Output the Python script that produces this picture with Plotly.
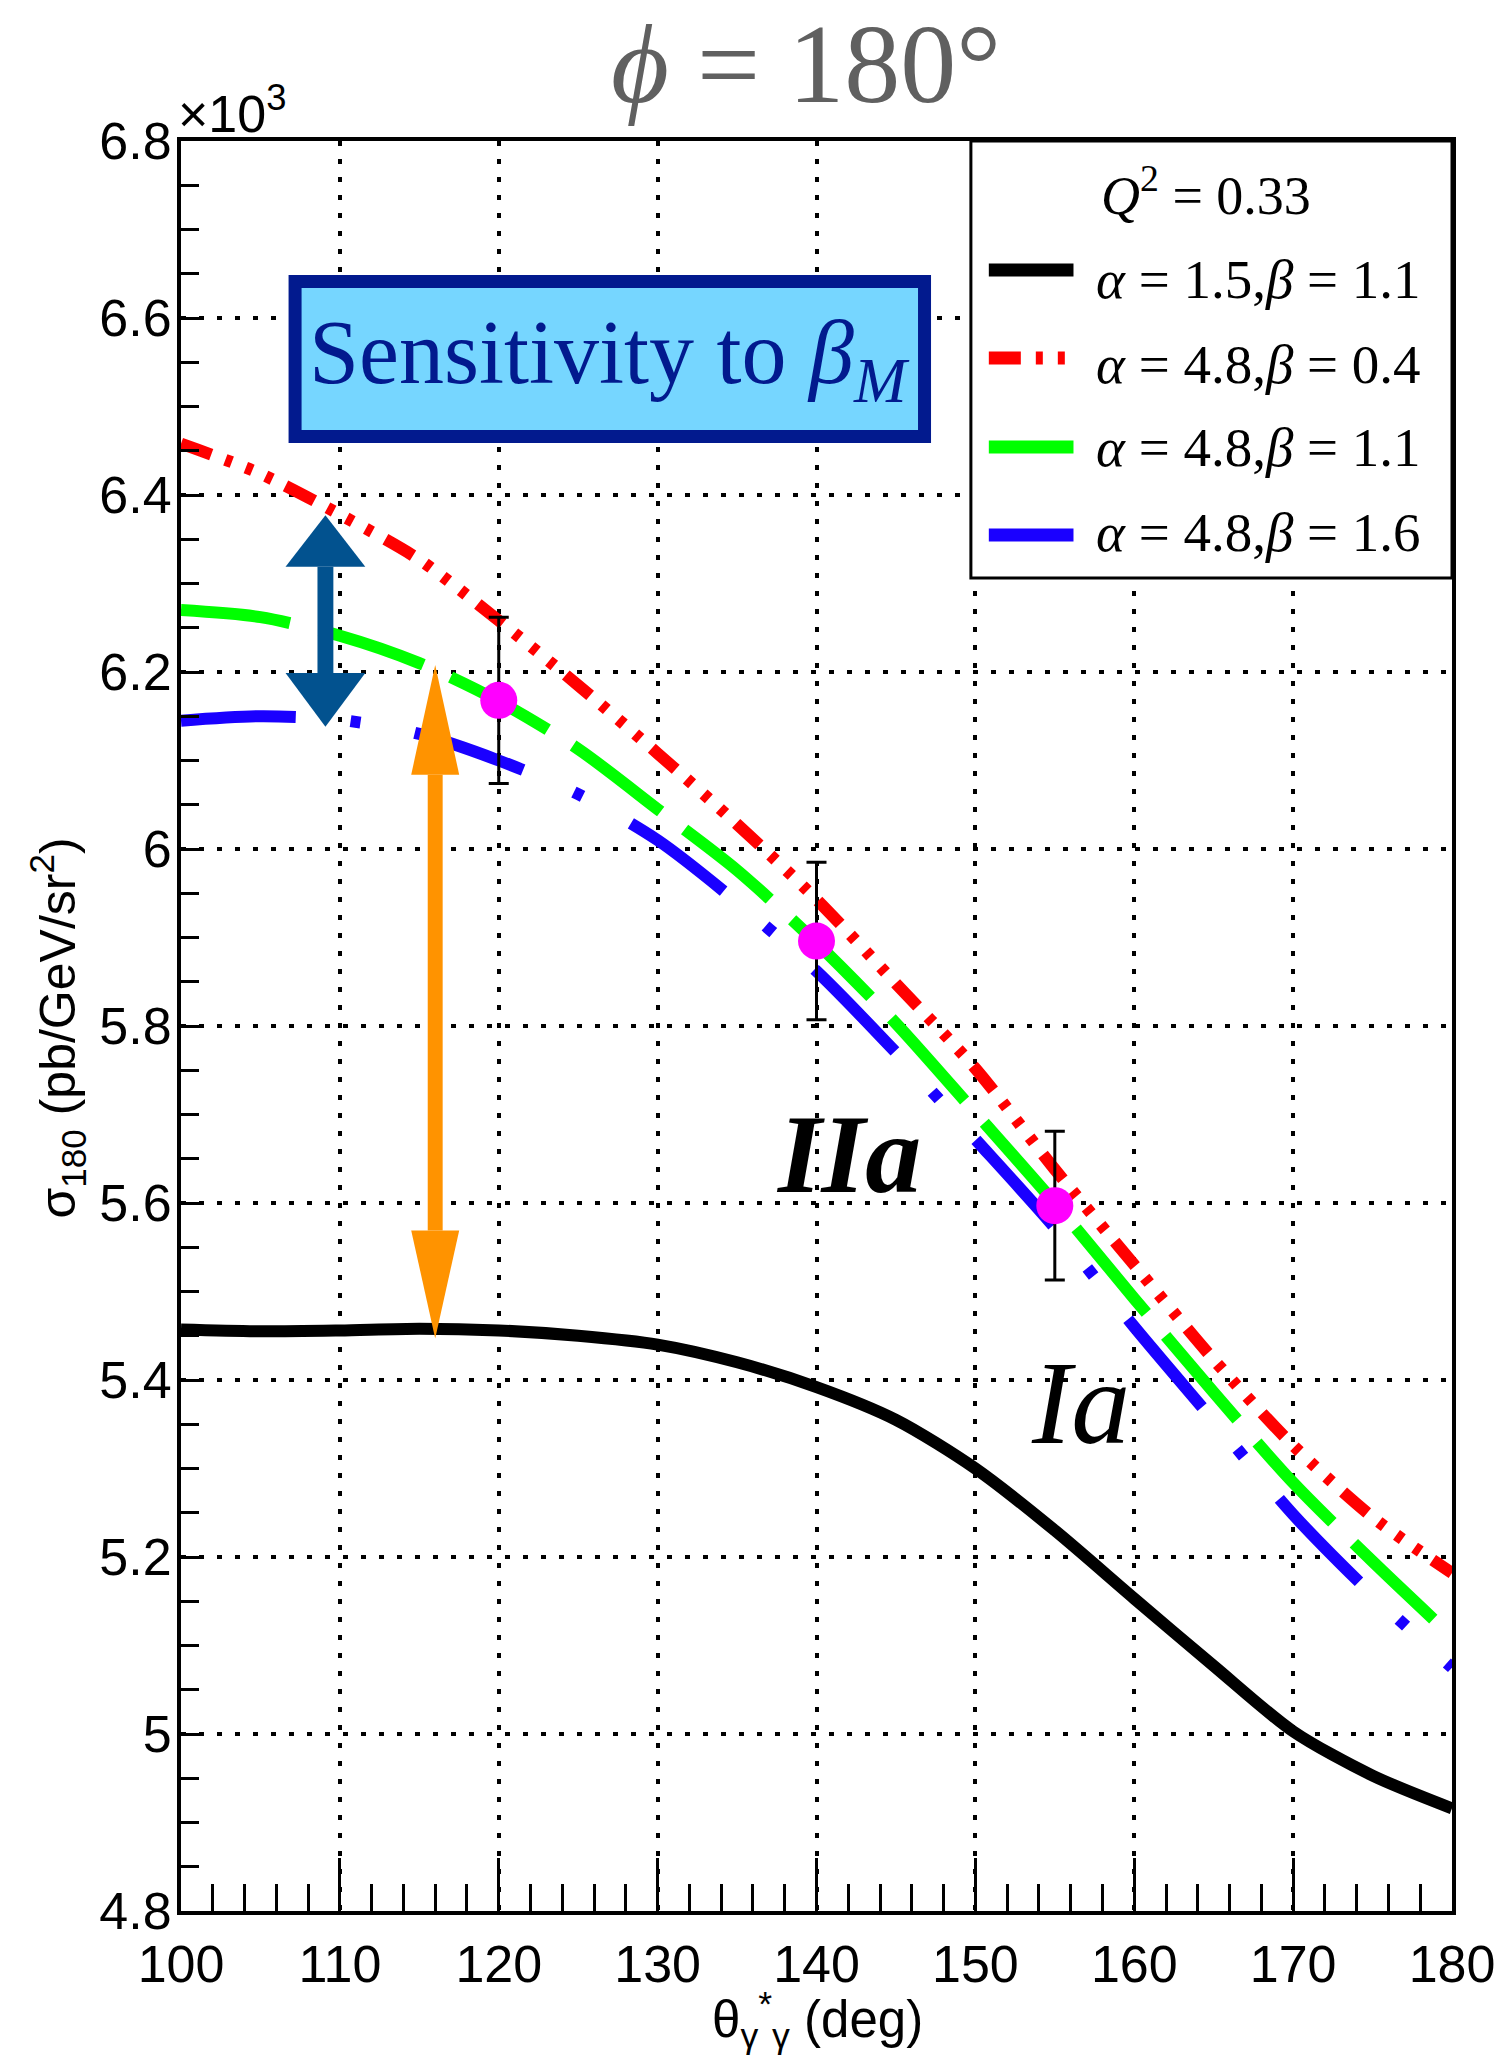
import plotly.graph_objects as go

# Scattering angle grid (deg)
theta = [100, 105, 110, 115, 120, 125, 130, 135, 140, 145, 150, 155, 160, 165, 170, 175, 180]

# Cross sections sigma_180 (x10^3 pb/GeV/sr^2) for each polarizability set
sigma_a15_b11 = [5.457, 5.455, 5.456, 5.458, 5.456, 5.450, 5.440, 5.420, 5.392, 5.355, 5.300, 5.230, 5.153, 5.077, 5.003, 4.953, 4.916]
sigma_a48_b04 = [6.458, 6.424, 6.378, 6.327, 6.258, 6.185, 6.108, 6.028, 5.943, 5.848, 5.752, 5.638, 5.530, 5.423, 5.326, 5.245, 5.182]
sigma_a48_b11 = [6.270, 6.262, 6.241, 6.210, 6.167, 6.113, 6.045, 5.976, 5.894, 5.803, 5.702, 5.600, 5.492, 5.386, 5.284, 5.195, 5.110]
sigma_a48_b16 = [6.145, 6.150, 6.146, 6.130, 6.100, 6.062, 6.010, 5.940, 5.862, 5.770, 5.672, 5.572, 5.460, 5.354, 5.248, 5.157, 5.075]

# Projected measurements
theta_data = [120, 140, 155]
sigma_data = [6.168, 5.896, 5.597]
sigma_err = [0.094, 0.089, 0.084]

# Tick labels
x_ticks = [100, 110, 120, 130, 140, 150, 160, 170, 180]
y_ticks = [4.8, 5.0, 5.2, 5.4, 5.6, 5.8, 6.0, 6.2, 6.4, 6.6, 6.8]
y_tick_text = ["4.8", "5", "5.2", "5.4", "5.6", "5.8", "6", "6.2", "6.4", "6.6", "6.8"]

series_labels = [
    "<i>α</i> = 1.5,<i>β</i> = 1.1",
    "<i>α</i> = 4.8,<i>β</i> = 0.4",
    "<i>α</i> = 4.8,<i>β</i> = 1.1",
    "<i>α</i> = 4.8,<i>β</i> = 1.6",
]
series_values = [sigma_a15_b11, sigma_a48_b04, sigma_a48_b11, sigma_a48_b16]
series_colors = ["#000000", "#ff0000", "#00ff00", "#1a00ff"]
series_dashes = [
    "solid",
    "32px,15px,7px,15px,7px,15px,7px,15px",
    "110px,30px",
    "115px,55px,10px,55px",
]

W, H = 1507, 2072
M_L, M_R, M_T, M_B = 181, 50, 141, 161
PW, PH = W - M_L - M_R, H - M_T - M_B


def px_x(x):
    """pixel column -> paper x"""
    return (x - M_L) / PW


def px_y(y):
    """pixel row -> paper y"""
    return (H - M_B - y) / PH


fig = go.Figure()

for lab, ys, col, dash in zip(series_labels, series_values, series_colors, series_dashes):
    fig.add_trace(go.Scatter(
        x=theta, y=ys, mode="lines", name=lab, showlegend=False,
        line=dict(color=col, width=12, dash=dash, shape="spline", smoothing=0.8),
    ))

fig.add_trace(go.Scatter(
    x=theta_data, y=sigma_data, mode="markers", showlegend=False,
    marker=dict(color="#ff00ff", size=37),
    error_y=dict(type="data", array=sigma_err, color="black", thickness=3, width=10),
))

axis_common = dict(
    showline=True, linecolor="black", linewidth=4, mirror=True,
    showgrid=True, gridcolor="black", gridwidth=4, griddash="5px,13px",
    zeroline=False, ticks="inside", tickcolor="black", tickwidth=3,
    tickfont=dict(family="Liberation Sans", size=52, color="black"),
)

fig.update_xaxes(
    range=[100, 180], tickvals=x_ticks, ticktext=[str(v) for v in x_ticks],
    ticklen=53, ticklabelstandoff=5,
    minor=dict(dtick=2, ticks="inside", ticklen=27, tickwidth=3, tickcolor="black", showgrid=False),
    **axis_common,
)
fig.update_yaxes(
    range=[4.8, 6.8], tickvals=y_ticks, ticktext=y_tick_text,
    ticklen=22, ticklabelstandoff=-5,
    minor=dict(dtick=0.05, ticks="inside", ticklen=18, tickwidth=3, tickcolor="black", showgrid=False),
    **axis_common,
)

shapes = []

# "Sensitivity" box
shapes.append(dict(type="rect", xref="x", yref="y", x0=107.18, x1=146.80, y0=6.4661, y1=6.6412,
                   fillcolor="#76d6ff", line=dict(color="#021a8e", width=13), layer="above"))


# beta-sensitivity arrow (blue) and full-spread arrow (orange)
def double_arrow(xc, half_shaft, half_head, tip_top, base_top, base_bot, tip_bot, color):
    out = []
    out.append(dict(type="rect", xref="x", yref="y", x0=xc - half_shaft, x1=xc + half_shaft,
                    y0=base_bot, y1=base_top, fillcolor=color, line=dict(width=0), layer="above"))
    out.append(dict(type="path", xref="x", yref="y",
                    path=f"M {xc - half_head},{base_top} L {xc + half_head},{base_top} L {xc},{tip_top} Z",
                    fillcolor=color, line=dict(width=0), layer="above"))
    out.append(dict(type="path", xref="x", yref="y",
                    path=f"M {xc - half_head},{base_bot} L {xc + half_head},{base_bot} L {xc},{tip_bot} Z",
                    fillcolor=color, line=dict(width=0), layer="above"))
    return out


shapes += double_arrow(109.09, 0.50, 2.51, 6.377, 6.319, 6.199, 6.138, "#02528f")
shapes += double_arrow(116.0, 0.47, 1.51, 6.208, 6.084, 5.569, 5.447, "#ff9300")

# legend frame
shapes.append(dict(type="rect", xref="paper", yref="paper", x0=px_x(974), x1=1.0,
                   y0=px_y(578), y1=1.0, fillcolor="white",
                   line=dict(color="black", width=3), layer="above"))
legend_rows = [270, 358, 447, 535]
for yy, col, dash in zip(legend_rows, series_colors, series_dashes):
    shapes.append(dict(type="line", xref="paper", yref="paper", x0=px_x(992), x1=px_x(1077),
                       y0=px_y(yy), y1=px_y(yy), line=dict(color=col, width=13, dash=dash), layer="above"))

annotations = []
serif = "Liberation Serif"
sans = "Liberation Sans"

annotations.append(dict(text="<i>ϕ</i> = 180°", xref="paper", yref="paper", x=px_x(808), y=px_y(64),
                        xanchor="center", yanchor="middle", showarrow=False,
                        font=dict(family=serif, size=112, color="#606060")))
annotations.append(dict(text="×10<sup>3</sup>", xref="paper", yref="paper", x=px_x(176), y=px_y(110),
                        xanchor="left", yanchor="middle", showarrow=False,
                        font=dict(family=sans, size=52, color="black")))
annotations.append(dict(text="<i>Q</i><sup>2</sup> = 0.33", xref="paper", yref="paper", x=px_x(1210), y=px_y(192),
                        xanchor="center", yanchor="middle", showarrow=False,
                        font=dict(family=serif, size=54, color="black")))
for yy, lab in zip([279, 364, 447, 532], series_labels):
    annotations.append(dict(text=lab, xref="paper", yref="paper", x=px_x(1098), y=px_y(yy),
                            xanchor="left", yanchor="middle", showarrow=False,
                            font=dict(family=serif, size=55, color="black")))

annotations.append(dict(text="Sensitivity to <i>β</i><sub><i>M</i></sub>", xref="x", yref="y", x=127.0, y=6.553,
                        xanchor="center", yanchor="middle", showarrow=False,
                        font=dict(family=serif, size=90, color="#021a8e")))
annotations.append(dict(text="<b><i>IIa</i></b>", xref="x", yref="y", x=142.0, y=5.655,
                        xanchor="center", yanchor="middle", showarrow=False,
                        font=dict(family=serif, size=112, color="black")))
annotations.append(dict(text="<i>Ia</i>", xref="x", yref="y", x=156.6, y=5.373,
                        xanchor="center", yanchor="middle", showarrow=False,
                        font=dict(family=serif, size=118, color="black")))

# axis titles
annotations.append(dict(text="θ<sub>γ</sub><sup>*</sup><sub>γ</sub> (deg)", xref="paper", yref="paper",
                        x=px_x(820), y=px_y(2020), xanchor="center", yanchor="middle", showarrow=False,
                        font=dict(family=sans, size=51, color="black")))
annotations.append(dict(text="σ<sub>180</sub> (pb/GeV/sr<sup>2</sup>)", xref="paper", yref="paper",
                        x=px_x(57), y=px_y(1028), xanchor="center", yanchor="middle", textangle=-90, showarrow=False,
                        font=dict(family=sans, size=50, color="black")))

fig.update_layout(
    width=W, height=H,
    margin=dict(l=M_L, r=M_R, t=M_T, b=M_B),
    paper_bgcolor="white", plot_bgcolor="white",
    shapes=shapes, annotations=annotations,
    showlegend=False,
)

fig.write_html("out.html")
